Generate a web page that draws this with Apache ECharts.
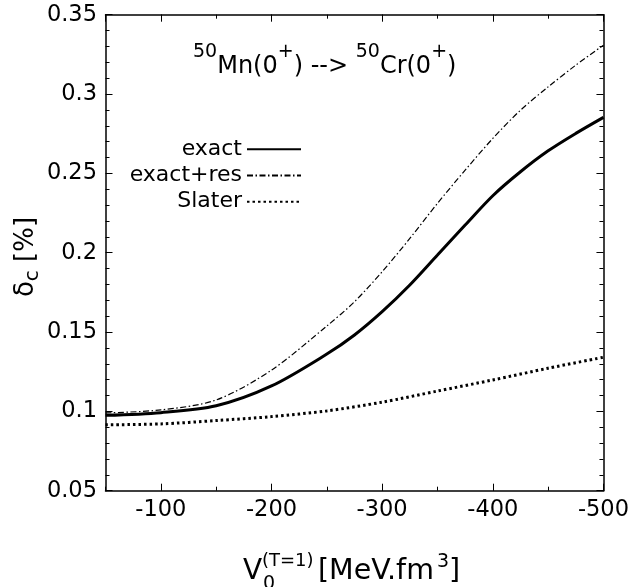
<!DOCTYPE html>
<html>
<head>
<meta charset="utf-8">
<script src="https://cdn.jsdelivr.net/npm/echarts@6/dist/echarts.min.js"></script>
<style>html,body{margin:0;padding:0;background:#fff;}#c{width:632px;height:587px;}</style>
</head>
<body>
<div id="c"></div>
<script>
// Data (x = V0^(T=1) in MeV.fm^3, y = delta_c in %)
var xCurves  = [-50, -100, -150, -200, -250, -275, -300, -325, -350, -375, -400, -425, -450, -475, -500];
var exact    = [0.0975, 0.0992, 0.1035, 0.116, 0.1361, 0.1481, 0.1628, 0.1796, 0.1985, 0.2174, 0.2359, 0.251, 0.2642, 0.2752, 0.2853];
var exactRes = [0.099, 0.1009, 0.1072, 0.126, 0.1538, 0.1691, 0.188, 0.209, 0.2311, 0.252, 0.272, 0.2898, 0.3045, 0.3182, 0.3308];
var xSlater  = [-50, -100, -150, -200, -250, -300, -350, -400, -450, -500];
var slater   = [0.0915, 0.0921, 0.0942, 0.0967, 0.1003, 0.1058, 0.1128, 0.1198, 0.1272, 0.1341];
var seriesNames = ['exact', 'exact+res', 'Slater'];

function pairs(xs, ys) { return xs.map(function (x, i) { return [x, ys[i]]; }); }

var FONT = 'DejaVu Sans, sans-serif';
var chart = echarts.init(document.getElementById('c'), null, {renderer: 'canvas'});

function xAxisDef(pos, interval, tickLen, showLabel) {
  return {
    type: 'value', position: pos, min: -500, max: -50, interval: interval, inverse: true,
    axisLine: {show: showLabel || (pos === 'top' && interval === 100), onZero: false, lineStyle: {color: '#000', width: 1.5}},
    axisTick: {show: true, inside: true, length: tickLen, lineStyle: {color: '#000', width: 1}},
    axisLabel: {show: showLabel, color: '#000', fontSize: 22.5, fontFamily: FONT, margin: 8, showMaxLabel: false},
    splitLine: {show: false}
  };
}
function yAxisDef(pos, showLabel) {
  return {
    type: 'value', position: pos, min: 0.05, max: 0.35, interval: 0.05,
    axisLine: {show: true, onZero: false, lineStyle: {color: '#000', width: 1.5}},
    axisTick: {show: true, inside: true, length: 7, lineStyle: {color: '#000', width: 1}},
    minorTick: {show: true, splitNumber: 5, length: 4, lineStyle: {color: '#000', width: 1}},
    axisLabel: {show: showLabel, color: '#000', fontSize: 22.5, fontFamily: FONT, margin: 8.5,
      formatter: function (v) { return String(Math.round(v * 100) / 100); }},
    splitLine: {show: false}
  };
}

function txt(x, y, s, size) {
  return {type: 'text', x: x, y: y, silent: true, style: {text: s, fontSize: size, fontFamily: FONT,
    fill: '#000', align: 'left', verticalAlign: 'middle'}};
}

var option = {
  backgroundColor: '#fff',
  animation: false,
  grid: {left: 105.5, right: 25.3, top: 14.7, bottom: 96.3},
  xAxis: [
    xAxisDef('bottom', 100, 7, true),
    xAxisDef('bottom', 50, 4, false),
    xAxisDef('top', 100, 7, false),
    xAxisDef('top', 50, 4, false)
  ],
  yAxis: [yAxisDef('left', true), yAxisDef('right', false)],
  legend: {
    orient: 'vertical', align: 'right', right: 330, top: 136, padding: 0,
    itemWidth: 54, itemHeight: 14, itemGap: 0,
    itemStyle: {opacity: 0, borderWidth: 0},
    textStyle: {fontSize: 22, lineHeight: 26.3, fontFamily: FONT, color: '#000'},
    data: seriesNames
  },
  series: [
    {name: seriesNames[0], type: 'line', data: pairs(xCurves, exact), smooth: 0.3, showSymbol: false, symbol: 'none',
      lineStyle: {color: '#000', width: 3, type: 'solid'}, itemStyle: {color: '#000'}},
    {name: seriesNames[1], type: 'line', data: pairs(xCurves, exactRes), smooth: 0.3, showSymbol: false, symbol: 'none',
      lineStyle: {color: '#000', width: 1.2, type: [6, 2.5, 1.5, 2.5]}, itemStyle: {color: '#000'}},
    {name: seriesNames[2], type: 'line', data: pairs(xSlater, slater), smooth: 0.3, showSymbol: false, symbol: 'none',
      lineStyle: {color: '#000', width: 3, type: [2.5, 3]}, itemStyle: {color: '#000'}}
  ],
  graphic: [
    {type: 'text', left: 193, top: 43, silent: true, style: {
      text: '{s|50}{n|Mn(0}{s|+}{n|) --> }{s|50}{n|Cr(0}{s|+}{n|)}',
      fontFamily: FONT, fill: '#000',
      rich: {n: {fontSize: 24, lineHeight: 36, verticalAlign: 'bottom', fontFamily: FONT},
             s: {fontSize: 19, lineHeight: 36, verticalAlign: 'top', fontFamily: FONT}}}},
    // x-axis title pieces
    txt(243, 572, 'V', 28),
    txt(263, 584, '0', 19),
    txt(262, 561, '(T=1)', 18),
    txt(318, 572, '[MeV.fm', 28.5),
    txt(437, 562, '3', 19),
    txt(449, 572, ']', 28.5),
    // y-axis title
    {type: 'text', x: 26, y: 257, rotation: Math.PI / 2, silent: true, style: {
      text: '{n|δ}{sb|c}{n| [%]}', align: 'center', verticalAlign: 'middle',
      fontFamily: FONT, fill: '#000',
      rich: {n: {fontSize: 26, lineHeight: 34, verticalAlign: 'middle', fontFamily: FONT},
             sb: {fontSize: 20, lineHeight: 34, verticalAlign: 'bottom', fontFamily: FONT}}}}
  ]
};
chart.setOption(option);
</script>
</body>
</html>
